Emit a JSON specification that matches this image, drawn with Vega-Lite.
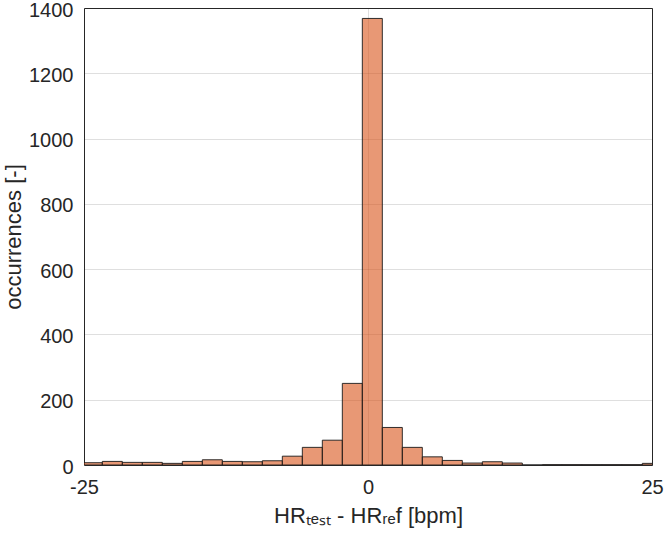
{
  "$schema": "https://vega.github.io/schema/vega-lite/v6.json",
  "width": 568,
  "height": 457,
  "autosize": {"type": "none"},
  "padding": {"left": 84, "top": 8, "right": 12, "bottom": 73},
  "background": "white",
  "config": {
    "view": {"stroke": "#262626", "strokeWidth": 1},
    "font": "Liberation Sans"
  },
  "data": {
    "values": [
      {"start": -25.148, "end": -23.388, "count": 7},
      {"start": -23.388, "end": -21.627, "count": 11},
      {"start": -21.627, "end": -19.867, "count": 8},
      {"start": -19.867, "end": -18.106, "count": 8},
      {"start": -18.106, "end": -16.345, "count": 5},
      {"start": -16.345, "end": -14.585, "count": 11},
      {"start": -14.585, "end": -12.824, "count": 16},
      {"start": -12.824, "end": -11.064, "count": 11},
      {"start": -11.064, "end": -9.303, "count": 10},
      {"start": -9.303, "end": -7.542, "count": 13},
      {"start": -7.542, "end": -5.782, "count": 27},
      {"start": -5.782, "end": -4.021, "count": 54},
      {"start": -4.021, "end": -2.261, "count": 76},
      {"start": -2.261, "end": -0.5, "count": 250},
      {"start": -0.5, "end": 1.261, "count": 1368},
      {"start": 1.261, "end": 3.021, "count": 115},
      {"start": 3.021, "end": 4.782, "count": 54},
      {"start": 4.782, "end": 6.542, "count": 25},
      {"start": 6.542, "end": 8.303, "count": 14},
      {"start": 8.303, "end": 10.064, "count": 6},
      {"start": 10.064, "end": 11.824, "count": 10},
      {"start": 11.824, "end": 13.585, "count": 6},
      {"start": 13.585, "end": 15.345, "count": 0},
      {"start": 15.345, "end": 17.106, "count": 1},
      {"start": 17.106, "end": 18.867, "count": 1},
      {"start": 18.867, "end": 20.627, "count": 1},
      {"start": 20.627, "end": 22.388, "count": 1},
      {"start": 22.388, "end": 24.148, "count": 1},
      {"start": 24.148, "end": 25.909, "count": 5}
    ]
  },
  "mark": {
    "type": "bar",
    "clip": true,
    "fill": "#D95319",
    "fillOpacity": 0.6,
    "stroke": "#1a1a1a",
    "strokeWidth": 0.9
  },
  "encoding": {
    "x": {
      "field": "start",
      "type": "quantitative",
      "scale": {"domain": [-25, 25], "nice": false, "zero": false},
      "axis": {
        "values": [-25, 0, 25],
        "labelExpr": "toString(datum.value)",
        "title": "HRₜₑₛₜ - HRᵣₑf [bpm]",
        "titleFontSize": 22,
        "titleFontWeight": "normal",
        "titleColor": "#262626",
        "titlePadding": 8,
        "labelFontSize": 20,
        "labelColor": "#262626",
        "labelPadding": 12,
        "labelFlush": false,
        "ticks": false,
        "domain": false,
        "grid": true,
        "gridColor": "#262626",
        "gridOpacity": 0.15
      }
    },
    "x2": {"field": "end"},
    "y": {
      "field": "count",
      "type": "quantitative",
      "scale": {"domain": [0, 1400], "nice": false},
      "axis": {
        "values": [0, 200, 400, 600, 800, 1000, 1200, 1400],
        "labelExpr": "toString(datum.value)",
        "title": "occurrences [-]",
        "titleFontSize": 22,
        "titleFontWeight": "normal",
        "titleColor": "#262626",
        "titlePadding": 3,
        "labelFontSize": 20,
        "labelColor": "#262626",
        "labelPadding": 11,
        "labelOffset": 2,
        "labelFlush": false,
        "ticks": false,
        "domain": false,
        "grid": true,
        "gridColor": "#262626",
        "gridOpacity": 0.15
      }
    },
    "y2": {"datum": 0}
  }
}
